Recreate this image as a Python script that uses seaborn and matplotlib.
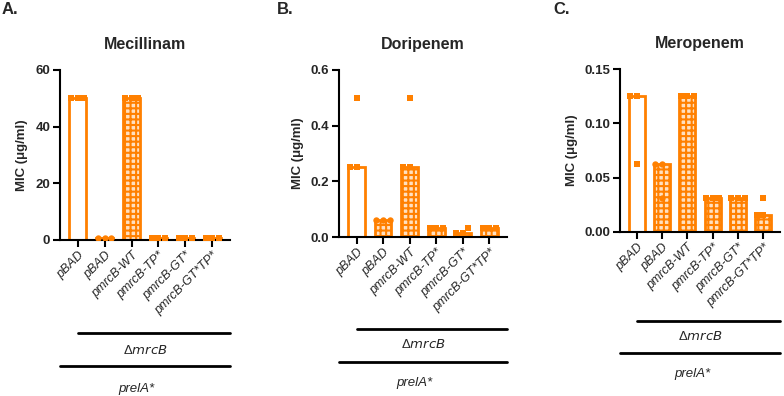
import matplotlib
matplotlib.use('Agg')
import matplotlib.pyplot as plt
import matplotlib.transforms as mtransforms
from matplotlib.lines import Line2D
import seaborn as sns
import pandas as pd
import numpy as np

# ---------------- data ----------------
strains = ['pBAD', 'pBAD', 'pmrcB-WT', 'pmrcB-TP*', 'pmrcB-GT*', 'pmrcB-GT*TP*']
group_keys = ['g1', 'g2', 'g3', 'g4', 'g5', 'g6']

mecillinam = [[50, 50, 50], [0.75, 0.75, 0.75], [50, 50, 50],
              [0.75, 0.75, 0.75], [0.75, 0.75, 0.75], [0.75, 0.75, 0.75]]
doripenem = [[0.25, 0.25, 0.5], [0.0625, 0.0625, 0.0625], [0.25, 0.25, 0.5],
             [0.03125, 0.03125, 0.03125], [0.03125, 0.015625, 0.015625],
             [0.03125, 0.03125, 0.03125]]
meropenem = [[0.125, 0.125, 0.0625], [0.0625, 0.0625, 0.03125], [0.125, 0.125, 0.125],
             [0.03125, 0.03125, 0.03125], [0.03125, 0.03125, 0.03125],
             [0.03125, 0.015625, 0.015625]]

panels = [
    ('A.', 'Mecillinam', mecillinam, [0, 20, 40, 60], '{:.0f}'),
    ('B.', 'Doripenem', doripenem, [0, 0.2, 0.4, 0.6], '{:.1f}'),
    ('C.', 'Meropenem', meropenem, [0, 0.05, 0.10, 0.15], '{:.2f}'),
]

# ---------------- style ----------------
ORANGE = '#FF8000'
sns.set_theme(style='ticks')
plt.rcParams['font.family'] = ['Liberation Sans', 'DejaVu Sans']
plt.rcParams['hatch.linewidth'] = 1.5
plt.rcParams['axes.linewidth'] = 1.5

W, H = 784, 396
fig = plt.figure(figsize=(W / 100, H / 100), dpi=100)

# axes rectangles in pixels: left, right, top, bottom
boxes = [(60, 230, 70, 240), (339, 507, 70, 237), (620, 780, 69, 232)]
label_x = [2, 277, 553]
ylab_x = [-0.19, -0.21, -0.26]
line_y = [(333, 366, 350, 389), (329, 362, 345, 383), (321, 353, 337, 374)]
markers = ['s', 'o', 's', 's', 's', 's']

for p, (letter, title, values, yticks, fmt) in enumerate(panels):
    l, r, t, b = boxes[p]
    ax = fig.add_axes([l / W, 1 - b / H, (r - l) / W, (b - t) / H])

    df = pd.DataFrame({
        'group': [k for k, v in zip(group_keys, values) for _ in v],
        'mic': [x for v in values for x in v],
    })

    sns.barplot(data=df, x='group', y='mic', order=group_keys, estimator='median',
                errorbar=None, width=0.62, ax=ax)
    for i, patch in enumerate(ax.patches):
        patch.set_edgecolor(ORANGE)
        patch.set_linewidth(2.0)
        if i == 0:
            patch.set_facecolor('white')
        else:
            patch.set_facecolor('#FFE0C0')
            patch.set_hatch('+++')

    for i, k in enumerate(group_keys):
        sns.swarmplot(data=df[df['group'] == k], x='group', y='mic', order=group_keys,
                      color=ORANGE, marker=markers[i], size=4.6, linewidth=0, ax=ax,
                      warn_thresh=1)

    ax.set_xlim(-0.66, 5.66)
    ax.set_ylim(0, yticks[-1])
    ax.set_yticks(yticks)
    ax.set_yticklabels([fmt.format(v) for v in yticks], fontweight='bold', fontsize=9.5)
    ax.set_xticks(range(6))
    ax.set_xticklabels(strains, rotation=45, ha='right', rotation_mode='anchor',
                       fontstyle='italic', fontsize=9)
    ax.tick_params(axis='both', length=5, width=1.5, color='black', pad=2)
    ax.set_xlabel('')
    ax.set_ylabel('MIC (\u03bcg/ml)', fontweight='bold', fontsize=9.5)
    ax.yaxis.set_label_coords(ylab_x[p], 0.5)
    ax.set_title(title, fontweight='bold', fontsize=11.5, pad=15)
    for s in ['top', 'right']:
        ax.spines[s].set_visible(False)
    for s in ['left', 'bottom']:
        ax.spines[s].set_color('black')

    # group annotations under the axis
    trans = mtransforms.blended_transform_factory(ax.transData, fig.transFigure)
    ttrans = mtransforms.blended_transform_factory(ax.transAxes, fig.transFigure)
    y1, y2, ty1, ty2 = line_y[p]
    x0, x1 = ax.get_xlim()
    fig.add_artist(Line2D([0, x1], [1 - y1 / H, 1 - y1 / H], color='black', lw=2,
                          transform=trans))
    fig.add_artist(Line2D([x0, x1], [1 - y2 / H, 1 - y2 / H], color='black', lw=2,
                          transform=trans))
    ax.text(0.5, 1 - ty1 / H, '\u0394$\\it{mrcB}$', transform=ttrans,
            ha='center', va='center', fontsize=9.5)
    ax.text(0.45, 1 - ty2 / H, 'prelA*', transform=ttrans,
            ha='center', va='center', fontsize=9.5, fontstyle='italic')

    fig.text(label_x[p] / W, 1 - 10 / H, letter, fontweight='bold', fontsize=12,
             ha='left', va='center')

fig.savefig('out.png', dpi=100)
